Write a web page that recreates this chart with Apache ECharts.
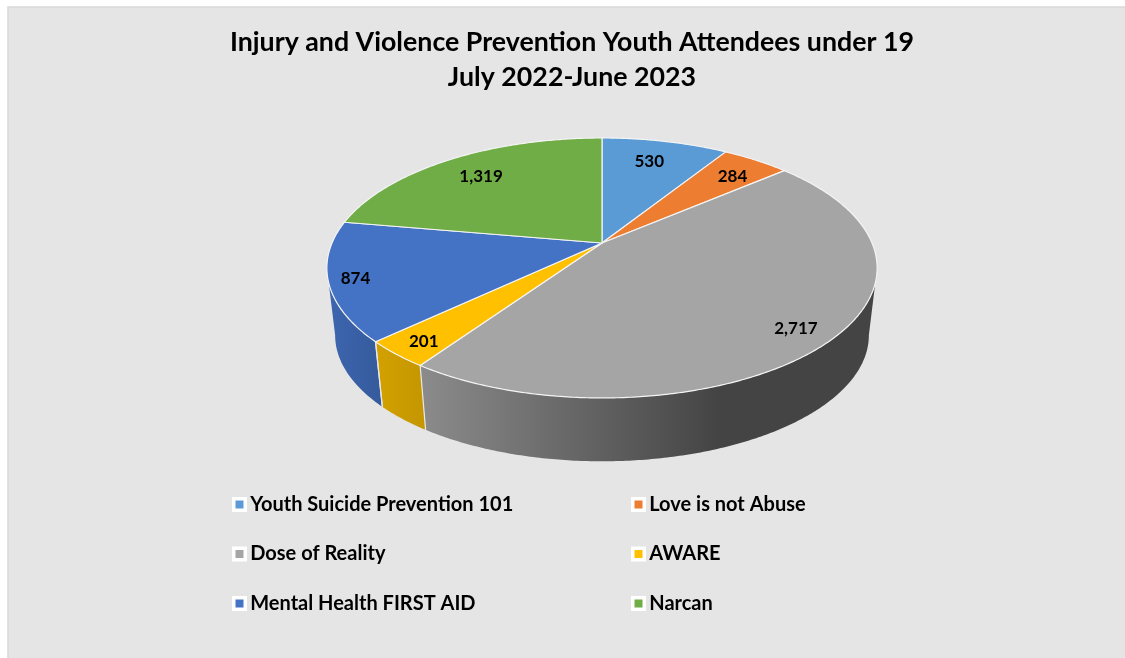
<!DOCTYPE html>
<html><head><meta charset="utf-8">
<style>html,body{margin:0;padding:0;background:#fff}#c{width:1125px;height:658px}</style>
<script src="https://cdn.jsdelivr.net/npm/echarts@6/dist/echarts.min.js"></script>
</head><body><div id="c"></div>
<script>
const categories = ['Youth Suicide Prevention 101','Love is not Abuse','Dose of Reality','AWARE','Mental Health FIRST AID','Narcan'];
const values = [530,284,2717,201,874,1319];
const valueLabels = ['530','284','2,717','201','874','1,319'];
const colors = ['#5b9bd5','#ed7d31','#a5a5a5','#ffc000','#4472c4','#70ad47'];
const titleText = 'Injury and Violence Prevention Youth Attendees under 19\nJuly 2022-June 2023';

(function(){
// projection of the tilted disc
const CX=602, CY=243, AX=270, AY=125.2, P=0.192, WALL_Y=311, WALL_S=0.97, LABEL_R=0.8;
const labelNudge=[[-5,2],[4,1],[15,11],[-19,12],[-30,5],[3.5,2]];
const wallFill=[
  null,null,
  {type:'linear',global:true,x:421,y:0,x2:720,y2:0,colorStops:[{offset:0,color:'#8b8b8b'},{offset:1,color:'#444444'}]},
  {type:'linear',global:true,x:378,y:0,x2:426,y2:0,colorStops:[{offset:0,color:'#d2a000'},{offset:1,color:'#c49600'}]},
  {type:'linear',global:true,x:330,y:0,x2:382,y2:0,colorStops:[{offset:0,color:'#3d65ae'},{offset:1,color:'#355b9c'}]},
  null];

const total=values.reduce((a,b)=>a+b,0);
const rad=v=>v/total*2*Math.PI;
const starts=[];values.reduce((a,v,i)=>(starts[i]=a,a+v),0);
// rim angles where the wall meets the disc's silhouette
const T1=Math.acos(-P), T2=2*Math.PI-T1;
function upper(t,r=1){const d=1+P*r*Math.cos(t);return [CX+AX*r*Math.sin(t)/d,CY-AY*r*Math.cos(t)/d];}
function lower(t){const d=1+P*Math.cos(t);return [CX+WALL_S*AX*Math.sin(t)/d,WALL_Y-WALL_S*AY*Math.cos(t)/d];}
function arc(fn,a,b){const n=Math.max(2,Math.ceil((b-a)/0.01)),o=[];for(let k=0;k<=n;k++)o.push(fn(a+(b-a)*k/n));return o;}

function makeRender(i){
  return function(){
    const a=rad(starts[i]),b=rad(starts[i]+values[i]),m=(a+b)/2;
    const kids=[];
    if(wallFill[i]){
      const wa=Math.max(a,T1), wb=Math.min(b,T2);
      kids.push({type:'polygon',z2:1,silent:true,shape:{points:arc(upper,wa,wb).concat(arc(lower,wa,wb).reverse())},style:{fill:wallFill[i],stroke:null}});
    }
    [a,b].forEach(t=>{
      if(i>=3&&i<=4&&t>T1&&t<T2){
        const u=upper(t),w=lower(t);
        kids.push({type:'line',z2:2,silent:true,shape:{x1:u[0],y1:u[1],x2:w[0],y2:w[1]},style:{stroke:'#e8e8e8',lineWidth:1.2}});
      }
    });
    kids.push({type:'polygon',z2:3,silent:true,shape:{points:[[CX,CY]].concat(arc(upper,a,b))},style:{fill:colors[i],stroke:'#f4f4f4',lineWidth:1.2,lineJoin:'round'}});
    const p=upper(m,LABEL_R);
    kids.push({type:'text',z2:4,silent:true,style:{text:valueLabels[i],x:p[0]+labelNudge[i][0],y:p[1]+labelNudge[i][1],align:'center',verticalAlign:'middle',textAlign:'center',textVerticalAlign:'middle',fill:'#000',font:'bold 17px Lato'}});
    return {type:'group',children:kids};
  };
}

const legendBase={orient:'vertical',icon:'rect',itemWidth:11.5,itemHeight:11.5,itemGap:29.5,
  itemStyle:{borderColor:'#fff',borderWidth:3.5},
  textStyle:{fontFamily:'Lato',fontWeight:'bold',fontSize:20,color:'#000'},selectedMode:false};

const chart=echarts.init(document.getElementById('c'),null,{renderer:'canvas'});
chart.setOption({
  animation:false,
  backgroundColor:'#ffffff',
  title:{text:titleText,left:567,top:20,textAlign:'center',textStyle:{fontFamily:'Lato',fontWeight:'bold',fontSize:26.75,lineHeight:35,color:'#000'}},
  legend:[
    Object.assign({},legendBase,{left:227,top:489.5,data:[categories[0],categories[2],categories[4]]}),
    Object.assign({},legendBase,{left:626,top:489.5,data:[categories[1],categories[3],categories[5]]})
  ],
  graphic:[{type:'rect',z:-10,silent:true,shape:{x:8,y:7,width:1125,height:660},style:{fill:'#e5e5e5',stroke:'#d9d9d9',lineWidth:1.5}}],
  series:categories.map((name,i)=>({type:'custom',name,coordinateSystem:'none',silent:true,
    itemStyle:{color:colors[i]},data:[[values[i]]],renderItem:makeRender(i)}))
});
})();
</script></body></html>
